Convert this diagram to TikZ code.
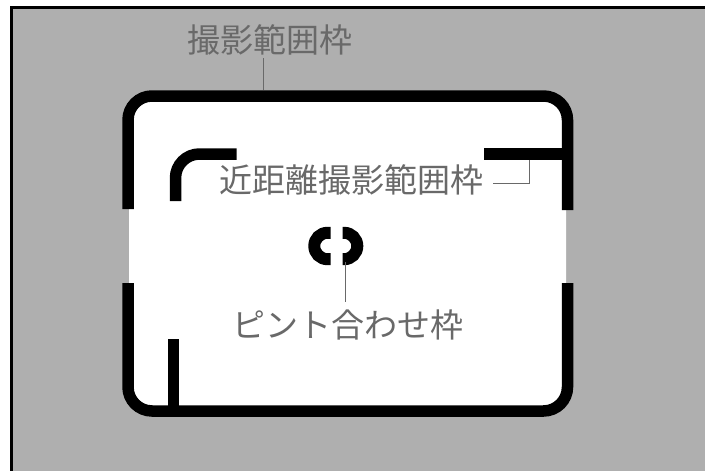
\documentclass[tikz,border=0pt]{standalone}
\usepackage{fontspec}
\newfontfamily\jp{Noto Sans CJK JP}
\definecolor{bggray}{RGB}{175,175,175}
\definecolor{txtgray}{RGB}{105,105,105}
\begin{document}
\begin{tikzpicture}[x=1pt,y=-1pt,
  frame/.style={line width=11.5pt,black},
  ring/.style={line width=12pt,black},
  leader/.style={line width=1pt,txtgray},
  lbl/.style={inner sep=0pt,anchor=base,text=txtgray,font=\jp\fontsize{33}{40}\selectfont}]
\useasboundingbox (0,0) rectangle (705,471);
% background panel
\fill[bggray] (11.5,7.5) rectangle (706,472);
\draw[line width=2.2pt] (11.5,472) -- (11.5,7.5) -- (706,7.5);
% white interior of the viewfinder
\fill[white, rounded corners=24pt] (129,96) rectangle (566,411);
% outer frame (photographic area)
\draw[frame, rounded corners=24pt] (128,209) -- (128,96) -- (567.5,96) -- (567.5,210);
\draw[frame, rounded corners=24pt] (128,283) -- (128,411) -- (567.5,411) -- (567.5,283);
% close-up frame marks
\draw[frame, rounded corners=24pt] (175.5,201) -- (175.5,154) -- (236.7,154);
\draw[frame] (484,154) -- (567.5,154);
\draw[frame] (173.5,339) -- (173.5,411);
% focusing circle
\draw[ring] (330.5,232.8) -- (327.5,232.8) arc[start angle=-90,end angle=-270,radius=13.2] -- (330.5,259.2);
\draw[ring] (342.5,232.8) -- (344.1,232.8) arc[start angle=-90,end angle=90,radius=13.2] -- (342.5,259.2);
% labels
\node[lbl] (top) at (269.5,52.5) {撮影範囲枠};
\node[lbl] (near) at (351.5,192.5) {近距離撮影範囲枠};
\node[lbl] (focus) at (347.5,337.5) {ピント合わせ枠};
% leader lines
\coordinate (topA) at (263,58);
\coordinate (topB) at (263,90);
\draw[leader] (topA) -- (topB);
\coordinate (nearA) at (493,183);
\coordinate (nearB) at (529,183);
\coordinate (nearC) at (529,159.5);
\draw[leader] (nearA) -- (nearB) -- (nearC);
\coordinate (focA) at (345.5,262);
\coordinate (focB) at (345.5,302);
\draw[leader] (focA) -- (focB);
\end{tikzpicture}
\end{document}
